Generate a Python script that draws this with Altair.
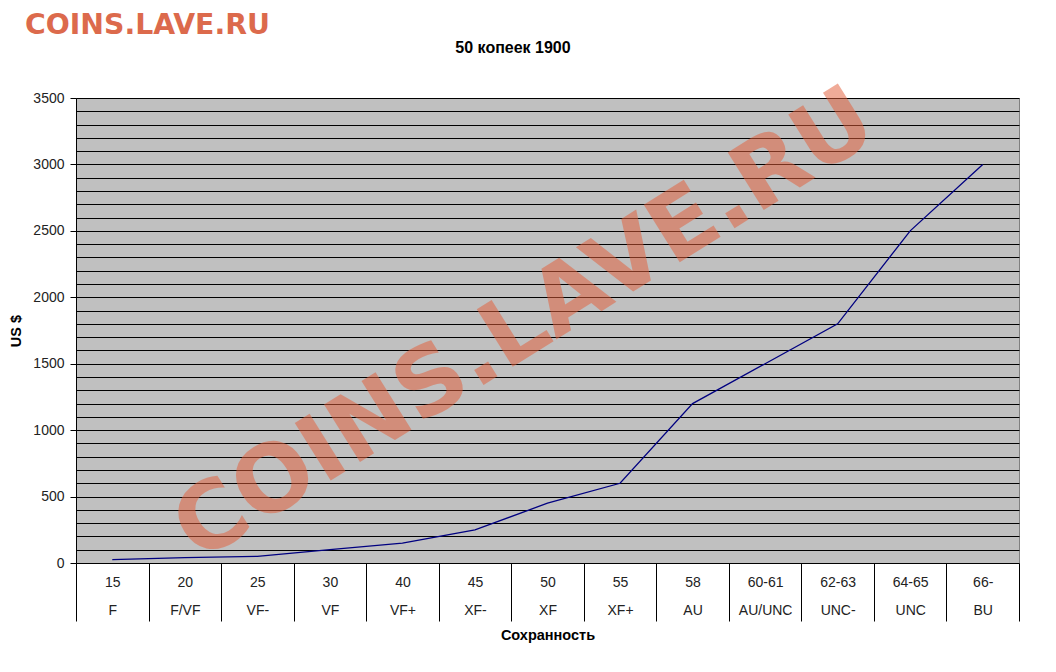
import altair as alt
import pandas as pd

grades = ["15", "20", "25", "30", "40", "45", "50", "55", "58", "60-61", "62-63", "64-65", "66-"]
names = ["F", "F/VF", "VF-", "VF", "VF+", "XF-", "XF", "XF+", "AU", "AU/UNC", "UNC-", "UNC", "BU"]
prices = [25, 40, 50, 100, 150, 250, 450, 600, 1200, 1500, 1800, 2500, 3000]
title_text = "50 копеек 1900"

cats = [g + "|" + n for g, n in zip(grades, names)]
df = pd.DataFrame({"cat": cats, "price": prices})

W, H = 943, 465
FONT = "Liberation Sans"
WM = "COINS.LAVE.RU"

x_enc = alt.X(
    "cat:N",
    sort=cats,
    scale=alt.Scale(paddingInner=0, paddingOuter=0),
    axis=alt.Axis(
        title="Сохранность",
        titleFont=FONT,
        titleFontSize=14.5,
        titleFontWeight="bold",
        titleColor="black",
        titlePadding=7,
        labelExpr="split(datum.label, '|')",
        labelFont=FONT,
        labelFontSize=14,
        labelColor="#222222",
        labelLineHeight=28,
        labelPadding=-46,
        labelAngle=0,
        tickBand="extent",
        tickSize=58,
        tickColor="black",
        tickWidth=1,
        domain=False,
        grid=False,
    ),
)

y_enc = alt.Y(
    "price:Q",
    scale=alt.Scale(domain=[0, 3500], nice=False),
    axis=alt.Axis(
        title="US $",
        titleFont=FONT,
        titleFontSize=14.5,
        titleFontWeight="bold",
        titleColor="black",
        titlePadding=9,
        values=list(range(0, 3501, 100)),
        labelExpr="datum.value % 500 == 0 ? format(datum.value, 'd') : ''",
        labelFont=FONT,
        labelFontSize=14,
        labelColor="#222222",
        labelPadding=6,
        tickSize=6,
        tickColor={"condition": {"test": "datum.value % 500 == 0", "value": "black"}, "value": "transparent"},
        domainColor="black",
        grid=True,
        gridColor="black",
        gridWidth=1,
        gridOpacity=1,
    ),
)

line = alt.Chart(df).mark_line(color="#000080", strokeWidth=1.3).encode(x=x_enc, y=y_enc)

wm_df = pd.DataFrame({"t": [WM]})
big_wm = alt.Chart(wm_df).mark_text(
    font="DejaVu Sans",
    fontWeight="bold",
    fontSize=93,
    color="#e4603c",
    opacity=0.52,
    angle=328,
    align="center",
    baseline="middle",
).encode(text="t:N", x=alt.value(449), y=alt.value(228))

small_wm = alt.Chart(wm_df).mark_text(
    font="DejaVu Sans",
    fontWeight="bold",
    fontSize=28.3,
    color="#dc6a4c",
    align="left",
    baseline="middle",
).encode(text="t:N", x=alt.value(-51), y=alt.value(-72))

title_df = pd.DataFrame({"t": [title_text]})
title_mark = alt.Chart(title_df).mark_text(
    font=FONT,
    fontWeight="bold",
    fontSize=16,
    color="black",
    align="center",
    baseline="middle",
).encode(text="t:N", x=alt.value(437), y=alt.value(-50))

chart = (
    alt.layer(line, big_wm, small_wm, title_mark)
    .properties(
        width=W,
        height=H,
        autosize=alt.AutoSizeParams(type="none"),
        padding={"left": 68, "top": 90, "right": 20, "bottom": 95},
        background="white",
    )
    .configure_view(fill="#c0c0c0", stroke="#808080", strokeWidth=1)
)

chart.save("out.html", embed_options={"renderer": "svg", "actions": False})
